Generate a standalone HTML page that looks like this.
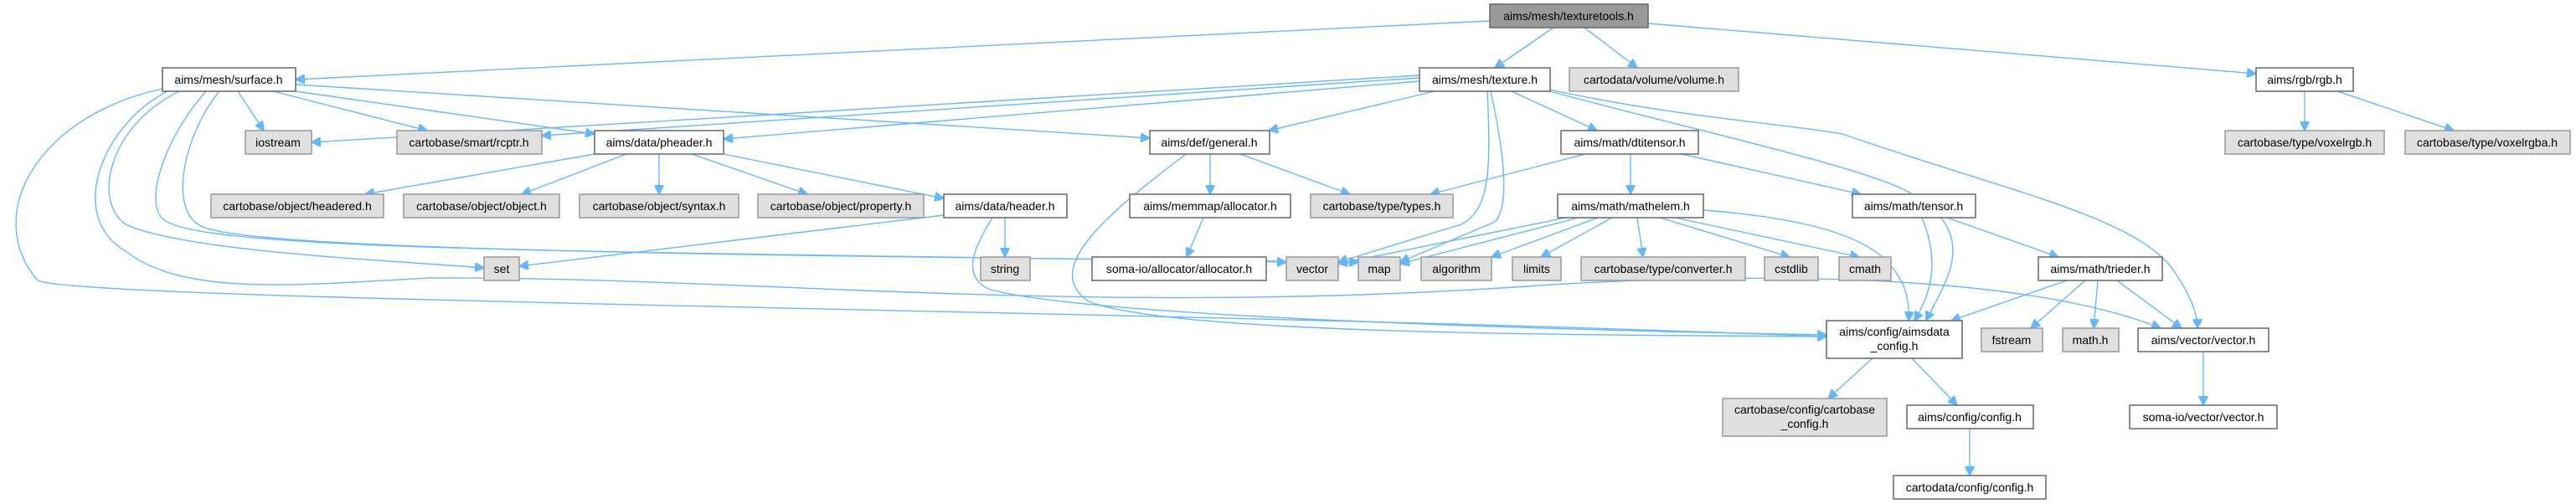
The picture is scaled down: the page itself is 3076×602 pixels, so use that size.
<!DOCTYPE html>
<html><head><meta charset="utf-8"><style>
html,body{margin:0;padding:0;background:#fff;}
svg{display:block;}
text{font-family:"Liberation Sans",sans-serif;font-size:14px;fill:#000;}
.w{fill:#fff;stroke:#666;stroke-width:1.5;}
.g{fill:#e0e0e0;stroke:#999;stroke-width:1.5;}
.r{fill:#999;stroke:#666;stroke-width:1.5;}
path{fill:none;stroke:#63b8ff;stroke-width:1.4;}
</style></head><body>
<svg width="3076" height="602" viewBox="0 0 3076 602" xmlns="http://www.w3.org/2000/svg">
<defs><marker id="a" viewBox="0 0 10 10" refX="10" refY="5" markerWidth="11" markerHeight="11" markerUnits="userSpaceOnUse" orient="auto"><path d="M0,0 L10,5 L0,10 z" style="fill:#63b8ff;stroke:#63b8ff"/></marker></defs>
<g marker-end="url(#a)">
<!-- texturetools -->
<path d="M1779,25 L353,95"/>
<path d="M1855,33 L1785,81"/>
<path d="M1892,33 L1955,81"/>
<path d="M1968,28 L2694,88"/>
<!-- surface -->
<path d="M284,109 L315,156"/>
<path d="M326,109 L510,156"/>
<path d="M353,109 L710,160"/>
<path d="M353,101 L1373,165"/>
<path d="M246,109 C200,160 170,240 195,262 C240,300 700,300 1536,313"/>
<path d="M262,109 C220,160 200,250 240,270 C300,300 900,305 1622,313"/>
<path d="M214,109 C130,150 110,240 150,268 C220,300 450,310 578,320"/>
<path d="M194,106 C40,140 -20,260 45,335 C100,360 1400,370 2181,402"/>
<path d="M200,109 C120,150 80,260 150,300 C220,355 360,340 512,332 C900,330 1300,380 1852,340 C2200,320 2450,340 2580,392"/>
<!-- texture -->
<path d="M1695,90 L372,170"/>
<path d="M1695,93 L647,162"/>
<path d="M1695,97 L864,166"/>
<path d="M1713,109 L1515,156"/>
<path d="M1805,109 L1907,156"/>
<path d="M1776,109 C1780,200 1780,250 1745,268 L1598,313"/>
<path d="M1780,109 C1800,200 1800,250 1785,265 L1672,313"/>
<path d="M1851,109 C2000,150 2230,200 2280,230 C2370,280 2320,340 2300,383"/>
<path d="M1851,107 C2000,140 2150,150 2200,160 C2400,230 2560,260 2600,330 C2620,360 2624,380 2624,392"/>
<!-- pheader -->
<path d="M710,184 L436,232"/>
<path d="M748,184 L623,232"/>
<path d="M787,184 L787,232"/>
<path d="M826,184 L964,232"/>
<path d="M864,184 L1127,237"/>
<!-- general -->
<path d="M1445,184 L1445,232"/>
<path d="M1481,184 L1612,232"/>
<path d="M1416,184 C1330,250 1240,320 1300,360 C1400,400 1900,400 2181,402"/>
<!-- header -->
<path d="M1127,257 L620,318"/>
<path d="M1200,260 L1200,307"/>
<path d="M1185,260 C1160,300 1150,330 1180,345 C1300,380 1900,395 2181,400"/>
<!-- memmap -->
<path d="M1437,260 L1417,307"/>
<!-- dtitensor -->
<path d="M1893,184 L1708,232"/>
<path d="M1947,184 L1947,232"/>
<path d="M2008,184 L2222,232"/>
<!-- mathelem -->
<path d="M1870,260 L1598,315"/>
<path d="M1885,260 L1672,315"/>
<path d="M1908,260 L1781,307"/>
<path d="M1925,260 L1840,307"/>
<path d="M1955,260 L1962,307"/>
<path d="M1982,260 L2137,307"/>
<path d="M2000,260 L2220,307"/>
<path d="M2034,251 C2150,260 2230,280 2260,320 C2280,345 2280,370 2279,383"/>
<!-- tensor -->
<path d="M2295,260 C2320,320 2300,360 2286,383"/>
<path d="M2325,260 L2458,307"/>
<!-- trieder -->
<path d="M2468,335 L2330,383"/>
<path d="M2490,335 L2425,392"/>
<path d="M2505,335 L2500,392"/>
<path d="M2528,335 L2605,392"/>
<!-- aimsdata config -->
<path d="M2236,428 L2183,476"/>
<path d="M2283,428 L2337,484"/>
<path d="M2352,512 L2352,568"/>
<path d="M2631,420 L2631,484"/>
<!-- rgb -->
<path d="M2752,109 L2752,156"/>
<path d="M2791,109 L2930,156"/>
</g>
<!-- nodes -->
<rect class="r" x="1779" y="5" width="189" height="28"/><text x="1873" y="24" text-anchor="middle">aims/mesh/texturetools.h</text>
<rect class="w" x="194" y="81" width="159" height="28"/><text x="273" y="100" text-anchor="middle">aims/mesh/surface.h</text>
<rect class="w" x="1695" y="81" width="156" height="28"/><text x="1773" y="100" text-anchor="middle">aims/mesh/texture.h</text>
<rect class="g" x="1874" y="81" width="202" height="28"/><text x="1975" y="100" text-anchor="middle">cartodata/volume/volume.h</text>
<rect class="w" x="2694" y="81" width="116" height="28"/><text x="2752" y="100" text-anchor="middle">aims/rgb/rgb.h</text>

<rect class="g" x="293" y="156" width="79" height="28"/><text x="332" y="175" text-anchor="middle">iostream</text>
<rect class="g" x="474" y="156" width="173" height="28"/><text x="560" y="175" text-anchor="middle">cartobase/smart/rcptr.h</text>
<rect class="w" x="710" y="156" width="154" height="28"/><text x="787" y="175" text-anchor="middle">aims/data/pheader.h</text>
<rect class="w" x="1373" y="156" width="143" height="28"/><text x="1444" y="175" text-anchor="middle">aims/def/general.h</text>
<rect class="w" x="1864" y="156" width="164" height="28"/><text x="1946" y="175" text-anchor="middle">aims/math/dtitensor.h</text>
<rect class="g" x="2657" y="156" width="190" height="28"/><text x="2752" y="175" text-anchor="middle">cartobase/type/voxelrgb.h</text>
<rect class="g" x="2872" y="156" width="197" height="28"/><text x="2970" y="175" text-anchor="middle">cartobase/type/voxelrgba.h</text>

<rect class="g" x="252" y="232" width="206" height="28"/><text x="355" y="251" text-anchor="middle">cartobase/object/headered.h</text>
<rect class="g" x="482" y="232" width="186" height="28"/><text x="575" y="251" text-anchor="middle">cartobase/object/object.h</text>
<rect class="g" x="692" y="232" width="190" height="28"/><text x="787" y="251" text-anchor="middle">cartobase/object/syntax.h</text>
<rect class="g" x="905" y="232" width="198" height="28"/><text x="1004" y="251" text-anchor="middle">cartobase/object/property.h</text>
<rect class="w" x="1127" y="232" width="147" height="28"/><text x="1200" y="251" text-anchor="middle">aims/data/header.h</text>
<rect class="w" x="1349" y="232" width="192" height="28"/><text x="1445" y="251" text-anchor="middle">aims/memmap/allocator.h</text>
<rect class="g" x="1565" y="232" width="170" height="28"/><text x="1650" y="251" text-anchor="middle">cartobase/type/types.h</text>
<rect class="w" x="1860" y="232" width="174" height="28"/><text x="1947" y="251" text-anchor="middle">aims/math/mathelem.h</text>
<rect class="w" x="2212" y="232" width="147" height="28"/><text x="2285" y="251" text-anchor="middle">aims/math/tensor.h</text>

<rect class="g" x="578" y="307" width="42" height="28"/><text x="599" y="326" text-anchor="middle">set</text>
<rect class="g" x="1171" y="307" width="59" height="28"/><text x="1200" y="326" text-anchor="middle">string</text>
<rect class="w" x="1304" y="307" width="208" height="28"/><text x="1408" y="326" text-anchor="middle">soma-io/allocator/allocator.h</text>
<rect class="g" x="1536" y="307" width="62" height="28"/><text x="1567" y="326" text-anchor="middle">vector</text>
<rect class="g" x="1622" y="307" width="50" height="28"/><text x="1647" y="326" text-anchor="middle">map</text>
<rect class="g" x="1697" y="307" width="84" height="28"/><text x="1739" y="326" text-anchor="middle">algorithm</text>
<rect class="g" x="1806" y="307" width="58" height="28"/><text x="1835" y="326" text-anchor="middle">limits</text>
<rect class="g" x="1888" y="307" width="196" height="28"/><text x="1986" y="326" text-anchor="middle">cartobase/type/converter.h</text>
<rect class="g" x="2107" y="307" width="64" height="28"/><text x="2139" y="326" text-anchor="middle">cstdlib</text>
<rect class="g" x="2196" y="307" width="62" height="28"/><text x="2227" y="326" text-anchor="middle">cmath</text>
<rect class="w" x="2434" y="307" width="148" height="28"/><text x="2508" y="326" text-anchor="middle">aims/math/trieder.h</text>

<rect class="w" x="2181" y="383" width="162" height="45"/><text x="2262" y="401" text-anchor="middle">aims/config/aimsdata</text><text x="2262" y="418" text-anchor="middle">_config.h</text>
<rect class="g" x="2366" y="392" width="73" height="28"/><text x="2402" y="411" text-anchor="middle">fstream</text>
<rect class="g" x="2463" y="392" width="67" height="28"/><text x="2496" y="411" text-anchor="middle">math.h</text>
<rect class="w" x="2553" y="392" width="156" height="28"/><text x="2631" y="411" text-anchor="middle">aims/vector/vector.h</text>

<rect class="g" x="2057" y="476" width="196" height="45"/><text x="2155" y="494" text-anchor="middle">cartobase/config/cartobase</text><text x="2155" y="511" text-anchor="middle">_config.h</text>
<rect class="w" x="2277" y="484" width="151" height="28"/><text x="2352" y="503" text-anchor="middle">aims/config/config.h</text>
<rect class="w" x="2543" y="484" width="176" height="28"/><text x="2631" y="503" text-anchor="middle">soma-io/vector/vector.h</text>
<rect class="w" x="2261" y="568" width="182" height="28"/><text x="2352" y="587" text-anchor="middle">cartodata/config/config.h</text>
</svg>
</body></html>
